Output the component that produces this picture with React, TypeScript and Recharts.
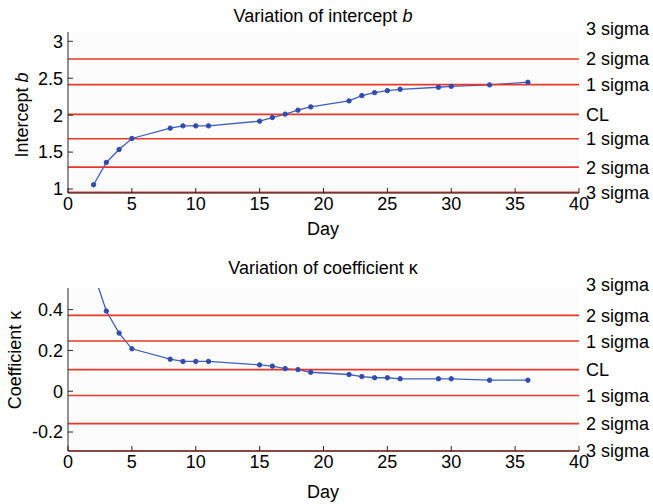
import { LineChart, Line, XAxis, YAxis, ReferenceLine, CartesianGrid } from "recharts";

const days = [2, 3, 4, 5, 8, 9, 10, 11, 15, 16, 17, 18, 19, 22, 23, 24, 25, 26, 29, 30, 33, 36];
const interceptB = [1.058, 1.36, 1.535, 1.684, 1.824, 1.855, 1.855, 1.855, 1.919, 1.968, 2.014, 2.068, 2.112, 2.193, 2.265, 2.305, 2.332, 2.35, 2.378, 2.39, 2.41, 2.446];
const coeffK = [0.58, 0.393, 0.285, 0.208, 0.157, 0.146, 0.146, 0.146, 0.129, 0.123, 0.111, 0.106, 0.093, 0.082, 0.072, 0.066, 0.066, 0.061, 0.061, 0.061, 0.054, 0.054];

const dayTicks = [0, 5, 10, 15, 20, 25, 30, 35, 40];
const bTicks = [1, 1.5, 2, 2.5, 3];
const kTicks = [-0.2, 0, 0.2, 0.4];

// control limits, top to bottom: +3s, +2s, +1s, CL, -1s, -2s, -3s
const bLimits = [3.126, 2.761, 2.414, 2.01, 1.68, 1.297, 0.955];
const kLimits = [0.506, 0.372, 0.246, 0.106, -0.021, -0.159, -0.293];
const sigmaLabels = ["3 sigma", "2 sigma", "1 sigma", "CL", "1 sigma", "2 sigma", "3 sigma"];

const bDomain = [0.946, 3.126];
const kDomain = [-0.293, 0.506];

const FONT = "'Liberation Sans', Arial, sans-serif";
const AXIS = "#262626";
const RED = "#e8382c";
const BLUE = "#3f5fbf";

const tickStyle = { fontSize: 18, fill: "#000", fontFamily: FONT };

function SigmaTick({ x, y, index }: any) {
  // first label sits a touch above the box edge, like the original
  const shift = index === 0 ? -3 : 0;
  return (
    <text x={x} y={y + shift} dy="0.36em" textAnchor="start" fontSize={18} fontFamily={FONT} fill="#000">
      {sigmaLabels[index]}
    </text>
  );
}

function Panel({ data, domain, ticks, limits, top, height, xHeight }: any) {
  return (
    <LineChart width={653} height={height} data={data} margin={{ top, right: 0, bottom: 0, left: 0 }}>
      <CartesianGrid horizontal={false} vertical={false} fill="#fcfcfc" />
      <XAxis
        xAxisId="b"
        dataKey="day"
        type="number"
        domain={[0, 40]}
        ticks={dayTicks}
        interval={0}
        height={xHeight}
        stroke={AXIS}
        tickSize={-5}
        tickMargin={9}
        tick={tickStyle}
      />
      <XAxis
        xAxisId="t"
        orientation="top"
        dataKey="day"
        type="number"
        domain={[0, 40]}
        ticks={dayTicks}
        interval={0}
        height={0}
        stroke={AXIS}
        tickSize={-5}
        tick={false}
      />
      <YAxis
        yAxisId="l"
        type="number"
        domain={domain}
        allowDataOverflow
        ticks={ticks}
        interval={0}
        width={68}
        stroke={AXIS}
        tickSize={-5}
        tickMargin={10}
        tick={tickStyle}
      />
      <YAxis
        yAxisId="r1"
        orientation="right"
        type="number"
        domain={domain}
        allowDataOverflow
        ticks={ticks}
        interval={0}
        width={0}
        stroke={AXIS}
        tickSize={-5}
        tick={false}
      />
      <YAxis
        yAxisId="r2"
        orientation="right"
        type="number"
        domain={domain}
        allowDataOverflow
        ticks={limits}
        interval={0}
        width={74}
        axisLine={false}
        tickLine={false}
        tickSize={0}
        tickMargin={7}
        tick={<SigmaTick />}
      />
      <Line
        xAxisId="b"
        yAxisId="l"
        type="linear"
        dataKey="v"
        stroke={BLUE}
        strokeWidth={1.3}
        dot={{ r: 2.2, fill: "#2f4cae", stroke: "#2f4cae", strokeWidth: 1 }}
        isAnimationActive={false}
      />
      {limits.slice(1).map((y: number, i: number) => (
        <ReferenceLine key={i} xAxisId="b" yAxisId="l" y={y} stroke={RED} strokeWidth={1.6} />
      ))}
    </LineChart>
  );
}

export default function App() {
  const bData = days.map((d, i) => ({ day: d, v: interceptB[i] }));
  const kData = days.map((d, i) => ({ day: d, v: coeffK[i] }));
  return (
    <div style={{ position: "absolute", left: 0, top: 0, width: 653, height: 504, background: "#fff", fontFamily: FONT }}>
      <div style={{ position: "absolute", left: 0, top: 0 }}>
        <Panel data={bData} domain={bDomain} ticks={bTicks} limits={bLimits} top={32} height={252} xHeight={59} />
      </div>
      <div style={{ position: "absolute", left: 0, top: 250 }}>
        <Panel data={kData} domain={kDomain} ticks={kTicks} limits={kLimits} top={38} height={254} xHeight={53} />
      </div>
      <svg width={653} height={504} style={{ position: "absolute", left: 0, top: 0, pointerEvents: "none" }}>
        <g fontFamily={FONT} fontSize={18} fill="#000">
          <text x={323} y={22} textAnchor="middle">
            Variation of intercept <tspan fontStyle="italic">b</tspan>
          </text>
          <text x={323} y={235} textAnchor="middle">Day</text>
          <text x={28} y={115} textAnchor="middle" transform="rotate(-90 28 115)">
            Intercept <tspan fontStyle="italic">b</tspan>
          </text>
          <text x={323} y={274} textAnchor="middle">Variation of coefficient κ</text>
          <text x={323} y={498} textAnchor="middle">Day</text>
          <text x={21} y={360} textAnchor="middle" transform="rotate(-90 21 360)">Coefficient κ</text>
        </g>
      </svg>
    </div>
  );
}
